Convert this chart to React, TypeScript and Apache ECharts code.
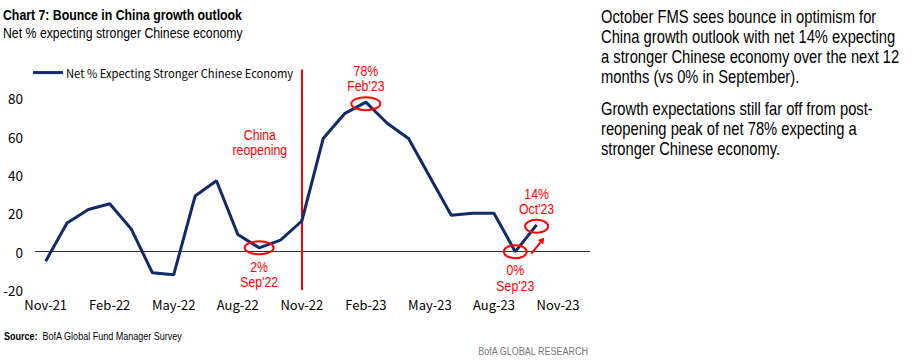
import React, { useEffect, useRef } from 'react';
import * as echarts from 'echarts';

const months = ['Nov-21','Dec-21','Jan-22','Feb-22','Mar-22','Apr-22','May-22','Jun-22','Jul-22','Aug-22','Sep-22','Oct-22','Nov-22','Dec-22','Jan-23','Feb-23','Mar-23','Apr-23','May-23','Jun-23','Jul-23','Aug-23','Sep-23','Oct-23','Nov-23','Dec-23'];
const netStronger = [-5, 15, 22, 25, 12, -11, -12, 29, 37, 9, 2, 6, 16, 59, 72, 78, 67, 59, 39, 19, 20, 20, 0, 14];
const seriesName = 'Net % Expecting Stronger Chinese Economy';
const reopeningMonth = 'Nov-22';
const callouts = [
  { month: 'Sep-22', text: "2%\nSep'22", below: true },
  { month: 'Feb-23', text: "78%\nFeb'23", below: false },
  { month: 'Sep-23', text: "0%\nSep'23", below: true },
  { month: 'Oct-23', text: "14%\nOct'23", below: false },
];
const chartTitle = 'Chart 7: Bounce in China growth outlook';
const chartSubtitle = 'Net % expecting stronger Chinese economy';
const para1 = "October FMS sees bounce in optimism for\nChina growth outlook with net 14% expecting\na stronger Chinese economy over the next 12\nmonths (vs 0% in September).";
const para2 = "Growth expectations still far off from post-\nreopening peak of net 78% expecting a\nstronger Chinese economy.";

const NARROW = "'Liberation Sans', Arial, sans-serif"; // scaled horizontally to look like a narrow face
const AXISFONT = "'Noto Sans CJK JP', 'Liberation Sans', sans-serif";
const SX = 0.82;
const NAVY = '#0f2b6b';
const RED = '#ff0000';

export default function App() {
  const ref = useRef<HTMLDivElement>(null);
  useEffect(() => {
    document.body.style.margin = '0';
    const chart = echarts.init(ref.current!, null, { renderer: 'svg' });
    chart.setOption({
      animation: false,
      textStyle: { fontFamily: AXISFONT },
      legend: {
        left: 33, top: 67, padding: 0, icon: 'rect', itemWidth: 30, itemHeight: 3, itemGap: 10,
        textStyle: { fontFamily: AXISFONT, fontSize: 11.2, color: '#000', padding: [0, 0, 0, -2] },
        data: [seriesName],
      },
      grid: { left: 35, right: 328, top: 60, bottom: 70 },
      xAxis: {
        type: 'category', data: months, boundaryGap: true,
        axisLine: { show: false }, axisTick: { show: false },
        axisLabel: { interval: 2, margin: 8, fontFamily: AXISFONT, fontSize: 13, color: '#000' },
        splitLine: { show: false },
      },
      yAxis: {
        type: 'value', min: -20, max: 100, interval: 20,
        axisLine: { show: false }, axisTick: { show: false }, splitLine: { show: false },
        axisLabel: { margin: 12, fontFamily: AXISFONT, fontSize: 13.5, color: '#000',
          formatter: (v: number) => (v === 100 ? '' : String(v)) },
      },
      series: [{
        name: seriesName, type: 'line', data: netStronger, symbol: 'none',
        lineStyle: { color: NAVY, width: 3 }, itemStyle: { color: NAVY }, z: 3,
        markLine: {
          silent: true, symbol: ['none', 'none'], label: { show: false }, z: 1,
          data: [
            { yAxis: 0, lineStyle: { color: '#333', width: 1, type: 'solid' } },
            [
              { coord: [reopeningMonth, -20], lineStyle: { color: RED, width: 2, type: 'solid' } },
              { coord: [reopeningMonth, 95] },
            ],
          ],
        },
      }],
    });

    const px = (m: string, v: number) =>
      chart.convertToPixel({ seriesIndex: 0 }, [months.indexOf(m), v]) as number[];
    const graphics: any[] = [];
    const narrowText = (x: number, y: number, style: any) => ({
      type: 'text', x, y, scaleX: SX, z: 10,
      style: { fontFamily: NARROW, verticalAlign: 'top', ...style },
    });
    const redText = (x: number, y: number, text: string) =>
      narrowText(x, y, { text, fill: RED, fontSize: 15, lineHeight: 15.5, align: 'center' });

    callouts.forEach((c) => {
      const v = netStronger[months.indexOf(c.month)];
      const [x, y] = px(c.month, v);
      const big = c.month === 'Sep-22' || c.month === 'Feb-23';
      graphics.push({
        type: 'ellipse', shape: { cx: x, cy: c.below ? y : y + 1.5, rx: big ? 14.5 : 11.5, ry: 6.5 },
        style: { fill: 'none', stroke: RED, lineWidth: 2 }, z: 10,
      });
      graphics.push(redText(x, c.below ? y + 11 : y - 39, c.text));
    });
    const [rx] = px(reopeningMonth, 0);
    const [, ry] = px(reopeningMonth, 63);
    graphics.push(redText(rx - 42, ry - 4, 'China\nreopening'));

    const [ax, ay] = px('Sep-23', 0);
    const x1 = ax + 16, y1 = ay + 2, x2 = ax + 29, y2 = ay - 14;
    const dx = x2 - x1, dy = y2 - y1, len = Math.hypot(dx, dy);
    const ux = dx / len, uy = dy / len;
    const hl = 6, hw = 3.5;
    const bx = x2 - ux * hl, by = y2 - uy * hl;
    graphics.push({ type: 'line', shape: { x1, y1, x2: bx, y2: by }, style: { stroke: RED, lineWidth: 2 }, z: 10 });
    graphics.push({
      type: 'polygon', shape: { points: [[x2, y2], [bx - uy * hw, by + ux * hw], [bx + uy * hw, by - ux * hw]] },
      style: { fill: RED }, z: 10,
    });

    graphics.push(narrowText(3, 8, { text: chartTitle, fill: '#000', fontSize: 15, fontWeight: 'bold' }));
    graphics.push(narrowText(3, 26, { text: chartSubtitle, fill: '#000', fontSize: 15 }));
    graphics.push(narrowText(4, 331, {
      text: '{b|Source:}  BofA Global Fund Manager Survey', fill: '#000', fontSize: 11,
      rich: { b: { fontFamily: NARROW, fontSize: 11, fontWeight: 'bold', fill: '#000' } },
    }));
    graphics.push(narrowText(588, 346, { text: 'BofA GLOBAL RESEARCH', fill: '#777', fontSize: 11, align: 'right' }));
    graphics.push(narrowText(601, 6, { text: para1, fill: '#000', fontSize: 18, lineHeight: 20 }));
    graphics.push(narrowText(601, 98, { text: para2, fill: '#000', fontSize: 18, lineHeight: 20 }));
    chart.setOption({ graphic: graphics });
    return () => chart.dispose();
  }, []);
  return <div ref={ref} style={{ width: 918, height: 360 }} />;
}
